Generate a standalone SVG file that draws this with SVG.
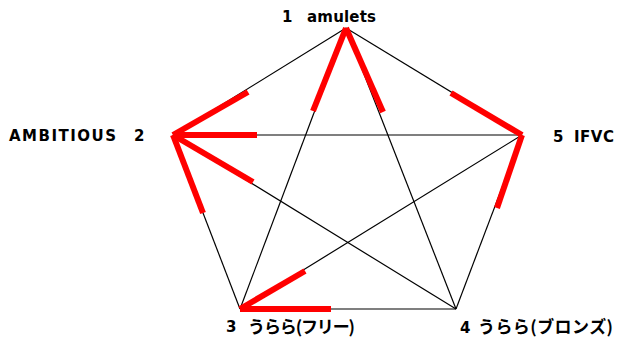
<svg xmlns="http://www.w3.org/2000/svg" width="620" height="338" viewBox="0 0 620 338">
<style>
.e{stroke:#000;stroke-width:1.2;fill:none}
.r{stroke:#ff0000;stroke-width:6;stroke-linecap:butt;fill:none}
.t{font-family:"DejaVu Sans","Noto Sans CJK JP",sans-serif;font-weight:bold;font-size:15px;fill:#000}
.j{font-family:"Noto Sans CJK JP","DejaVu Sans",sans-serif;font-weight:bold;font-size:17px;fill:#000}
</style>
<rect width="620" height="338" fill="#fff"/>
<g id="connectors">
<line class="e" x1="346" y1="28" x2="173" y2="135"/>
<line class="e" x1="346" y1="28" x2="522" y2="135"/>
<line class="e" x1="346" y1="28" x2="240" y2="309"/>
<line class="e" x1="346" y1="28" x2="456" y2="309"/>
<line class="e" x1="173" y1="135" x2="522" y2="135"/>
<line class="e" x1="173" y1="135" x2="240" y2="309"/>
<line class="e" x1="173" y1="135" x2="456" y2="309"/>
<line class="e" x1="240" y1="309" x2="456" y2="309"/>
<line class="e" x1="240" y1="309" x2="522" y2="135"/>
<line class="e" x1="456" y1="309" x2="522" y2="135"/>
<line class="r" x1="346" y1="28" x2="313" y2="111"/>
<line class="r" x1="346" y1="28" x2="383" y2="112"/>
<line class="r" x1="173" y1="135" x2="248" y2="92"/>
<line class="r" x1="173" y1="135" x2="257" y2="135"/>
<line class="r" x1="173" y1="135" x2="253" y2="182"/>
<line class="r" x1="173" y1="135" x2="203" y2="213"/>
<line class="r" x1="522" y1="135" x2="451" y2="93"/>
<line class="r" x1="522" y1="135" x2="497" y2="208"/>
<line class="r" x1="240" y1="309" x2="305" y2="271"/>
<line class="r" x1="240" y1="309" x2="331" y2="309"/>
</g>
<g id="node1">
<text class="t" x="282" y="21.5">1</text>
<text class="t" x="307" y="21.5" textLength="69" lengthAdjust="spacing">amulets</text>
</g>
<g id="node2">
<text class="t" x="9" y="141" textLength="107" lengthAdjust="spacing">AMBITIOUS</text>
<text class="t" x="134" y="141">2</text>
</g>
<g id="node5">
<text class="t" x="553" y="141.5">5</text>
<text class="t" x="574" y="141.5" textLength="40" lengthAdjust="spacing">IFVC</text>
</g>
<g id="node3">
<text class="t" x="226" y="332">3</text>
<text class="j" x="248" y="332.5" textLength="107" lengthAdjust="spacing">うらら(フリー)</text>
</g>
<g id="node4">
<text class="t" x="460" y="332.5">4</text>
<text class="j" x="478" y="332.5" textLength="135" lengthAdjust="spacing">うらら(ブロンズ)</text>
</g>
</svg>
